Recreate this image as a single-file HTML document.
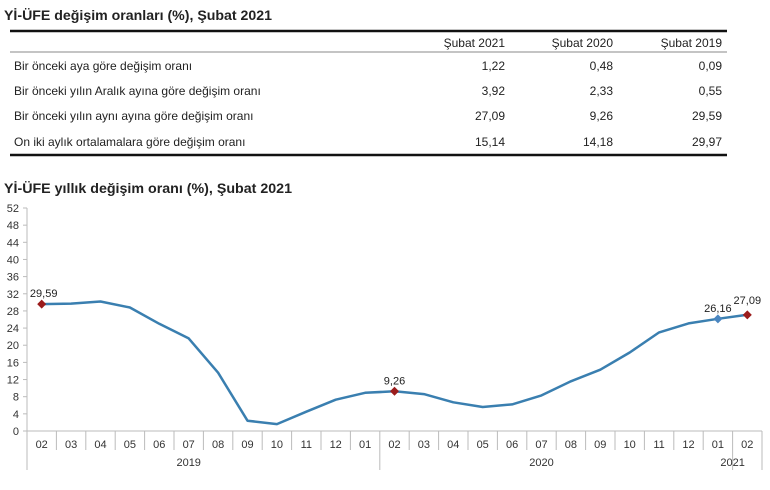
<!DOCTYPE html>
<html><head><meta charset="utf-8"><style>
body{margin:0;width:770px;height:485px;background:#fff;font-family:"Liberation Sans",sans-serif;overflow:hidden}
svg text{font-family:"Liberation Sans",sans-serif}
</style></head><body>
<svg width="770" height="485" viewBox="0 0 770 485" xmlns="http://www.w3.org/2000/svg">
<text x="4" y="20" font-size="14" font-weight="bold" fill="#222" textLength="268" lengthAdjust="spacingAndGlyphs">Yİ-ÜFE değişim oranları (%), Şubat 2021</text>
<line x1="10" y1="31" x2="727" y2="31" stroke="#111" stroke-width="2.5"/>
<line x1="10" y1="52" x2="727" y2="52" stroke="#888" stroke-width="1"/>
<line x1="10" y1="155" x2="727" y2="155" stroke="#111" stroke-width="2.5"/>
<g font-size="12" fill="#222">
<g text-anchor="end">
<text x="505" y="47">Şubat 2021</text><text x="613" y="47">Şubat 2020</text><text x="722" y="47">Şubat 2019</text>
<text x="505" y="70">1,22</text><text x="613" y="70">0,48</text><text x="722" y="70">0,09</text>
<text x="505" y="95">3,92</text><text x="613" y="95">2,33</text><text x="722" y="95">0,55</text>
<text x="505" y="120">27,09</text><text x="613" y="120">9,26</text><text x="722" y="120">29,59</text>
<text x="505" y="146">15,14</text><text x="613" y="146">14,18</text><text x="722" y="146">29,97</text>
</g>
<text x="14" y="70">Bir önceki aya göre değişim oranı</text>
<text x="14" y="95">Bir önceki yılın Aralık ayına göre değişim oranı</text>
<text x="14" y="120">Bir önceki yılın aynı ayına göre değişim oranı</text>
<text x="14" y="146">On iki aylık ortalamalara göre değişim oranı</text>
</g>
<text x="4" y="193" font-size="14" font-weight="bold" fill="#222" textLength="288" lengthAdjust="spacingAndGlyphs">Yİ-ÜFE yıllık değişim oranı (%), Şubat 2021</text>
<g id="chart"></g>
</svg>
<script>
const g=document.getElementById('chart');const NS='http://www.w3.org/2000/svg';
function el(t,a,txt){const e=document.createElementNS(NS,t);for(const k in a)e.setAttribute(k,a[k]);if(txt!==undefined)e.textContent=txt;g.appendChild(e);return e;}
const X0=27,CW=29.4,Y0=431,PU=(431-208)/52;
const y=v=>Y0-v*PU;
el('line',{x1:X0,y1:208,x2:X0,y2:470,stroke:'#bbb'});
for(let v=0;v<=52;v+=4){el('line',{x1:23,y1:y(v),x2:X0,y2:y(v),stroke:'#bbb'});el('text',{x:19,y:y(v)+4,'font-size':11,'text-anchor':'end',fill:'#333'},v);}
el('line',{x1:X0,y1:Y0,x2:X0+25*CW,y2:Y0,stroke:'#bbb'});
const labs=['02','03','04','05','06','07','08','09','10','11','12','01','02','03','04','05','06','07','08','09','10','11','12','01','02'];
for(let i=0;i<25;i++){const cx=X0+CW*(i+.5);el('text',{x:cx,y:448,'font-size':11,'text-anchor':'middle',fill:'#333'},labs[i]);
 const big=(i==11||i==23);el('line',{x1:X0+CW*(i+1),y1:Y0,x2:X0+CW*(i+1),y2:big||i==24?470:450,stroke:'#bbb'});}
el('text',{x:X0+CW*5.5,y:466,'font-size':11,'text-anchor':'middle',fill:'#333'},'2019');
el('text',{x:X0+CW*17.5,y:466,'font-size':11,'text-anchor':'middle',fill:'#333'},'2020');
el('text',{x:X0+CW*24,y:466,'font-size':11,'text-anchor':'middle',fill:'#333'},'2021');
const d=[29.59,29.7,30.2,28.8,25.0,21.6,13.6,2.4,1.6,4.5,7.3,8.9,9.26,8.6,6.7,5.6,6.2,8.3,11.6,14.3,18.3,23.0,25.1,26.16,27.09];
const pts=d.map((v,i)=>(X0+CW*(i+.5)).toFixed(1)+','+y(v).toFixed(1)).join(' ');
el('polyline',{points:pts,fill:'none',stroke:'#3a7fb0','stroke-width':2.5,'stroke-linejoin':'round'});
function dia(i,c){const cx=X0+CW*(i+.5),cy=y(d[i]);el('path',{d:`M${cx} ${cy-4.5}L${cx+4.5} ${cy}L${cx} ${cy+4.5}L${cx-4.5} ${cy}Z`,fill:c});}
dia(0,'#9b1c1c');dia(12,'#9b1c1c');dia(24,'#9b1c1c');dia(23,'#4a86c0');
[[0,'29,59'],[12,'9,26'],[23,'26,16'],[24,'27,09']].forEach(([i,t])=>{el('text',{x:X0+CW*(i+.5)+(i==0?2:0),y:y(d[i])-7-(i==24?4:0),'font-size':11,'text-anchor':'middle',fill:'#222'},t);});
</script>
</body></html>
